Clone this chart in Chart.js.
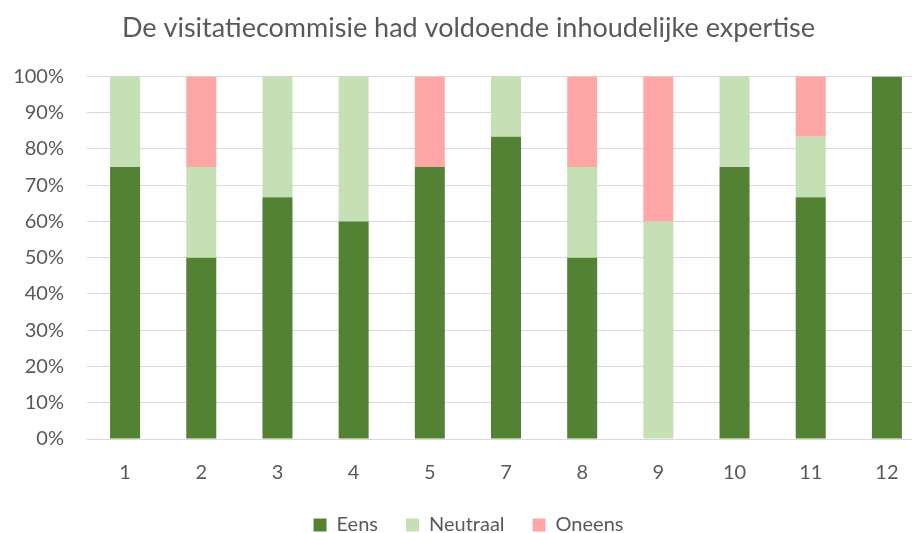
<!DOCTYPE html>
<html>
<head>
<meta charset="utf-8">
<script src="https://cdn.jsdelivr.net/npm/chart.js@4"></script>
<style>
  html, body { margin: 0; padding: 0; background: #fff; overflow: hidden; }
  #wrap { width: 955px; height: 545px; position: relative; }
</style>
</head>
<body>
<div id="wrap"><canvas id="chart"></canvas></div>
<script>
// categories (question numbers) and share per answer, in percent
const categories = ['1', '2', '3', '4', '5', '7', '8', '9', '10', '11', '12'];
const eens     = [75, 50, 66.67, 60, 75, 83.33, 50, 0, 75, 66.67, 100];
const neutraal = [25, 25, 33.33, 40, 0, 16.67, 25, 60, 25, 16.67, 0];
const oneens   = [0, 25, 0, 0, 25, 0, 25, 40, 0, 16.67, 0];
const yTicks = [0, 10, 20, 30, 40, 50, 60, 70, 80, 90, 100];

const fontFamily = 'Lato, "Open Sans", sans-serif';
const textColor = '#595959';

function makeSet(label, data, color) {
    return {
        label: label,
        data: data,
        backgroundColor: color,
        borderWidth: 0,
        barPercentage: 0.394,
        categoryPercentage: 1.0
    };
}

const ctx = document.getElementById('chart').getContext('2d');
const chart = new Chart(ctx, {
    type: 'bar',
    data: {
        labels: categories,
        datasets: [
            makeSet('Eens', eens, '#548235'),
            makeSet('Neutraal', neutraal, '#C5E0B4'),
            makeSet('Oneens', oneens, '#FFA7A7')
        ]
    },
    options: {
        responsive: true,
        maintainAspectRatio: false,
        animation: false,
        layout: { padding: { left: 12, right: 30, top: 12, bottom: 0 } },
        plugins: {
            title: {
                display: true,
                text: 'De visitatiecommisie had voldoende inhoudelijke expertise',
                color: textColor,
                font: { family: fontFamily, size: 27, weight: 'normal' },
                padding: { top: 0, bottom: 32 }
            },
            legend: {
                position: 'bottom',
                labels: {
                    color: textColor,
                    font: { family: fontFamily, size: 20 },
                    boxWidth: 13,
                    boxHeight: 13,
                    padding: 28
                }
            },
            tooltip: { enabled: false }
        },
        scales: {
            x: {
                stacked: true,
                grid: { display: false },
                border: { display: false },
                afterFit: (axis) => { axis.height = 48; },
                ticks: {
                    color: textColor,
                    font: { family: fontFamily, size: 20 },
                    padding: 14
                }
            },
            y: {
                stacked: true,
                min: 0,
                max: 100,
                afterBuildTicks: (axis) => { axis.ticks = yTicks.map(v => ({ value: v })); },
                afterFit: (axis) => { axis.width = 75; },
                grid: { color: '#D9D9D9', lineWidth: 1, drawTicks: false },
                border: { display: false },
                ticks: {
                    color: textColor,
                    font: { family: fontFamily, size: 20 },
                    padding: 23,
                    callback: (v) => v + '%'
                }
            }
        }
    }
});
</script>
</body>
</html>
